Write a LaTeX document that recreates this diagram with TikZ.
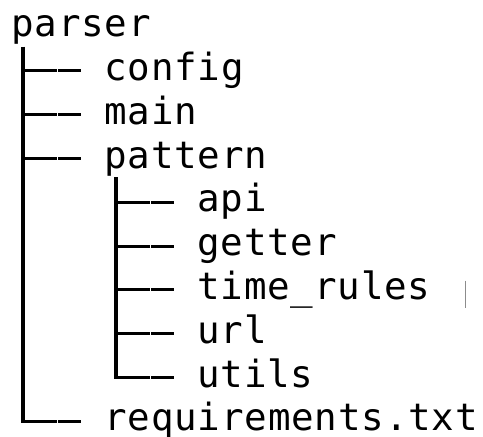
\documentclass[tikz,border=0pt]{standalone}
\usepackage{fontspec}
\newfontfamily\treefont[LetterSpace=2.2]{DejaVu Sans Mono}
\begin{document}
\begin{tikzpicture}[x=1pt,y=-1pt,
  entry/.style={anchor=base west,inner sep=0pt,outer sep=0pt,
    font=\treefont\fontsize{37.5}{44}\selectfont,text=black},
  trunk/.style={draw=black,line width=3.8pt},
  branch/.style={draw=black,line width=3pt},
  cursormark/.style={draw=black!45,line width=1pt}]
\useasboundingbox (0,0) rectangle (483,437);
% entries: column left = 11.4 + 23.25*col, baseline = 36.7 + 43.8*row
\node[entry] (parser)    at (11.4, 36.7)  {parser};
\node[entry] (config)    at (104.4, 80.5) {config};
\node[entry] (main)      at (104.4, 124.3) {main};
\node[entry] (pattern)   at (104.4, 168.1) {pattern};
\node[entry] (api)       at (197.4, 211.9) {api};
\node[entry] (getter)    at (197.4, 255.7) {getter};
\node[entry] (timerules) at (197.4, 299.5) {time\_rules};
\node[entry] (url)       at (197.4, 343.3) {url};
\node[entry] (utils)     at (197.4, 387.1) {utils};
\node[entry] (req)       at (104.4, 430.9) {requirements.txt};
% trunk tops
\coordinate (pT) at ([xshift=11.6pt,yshift=-10pt]parser.base west);
\coordinate (sT) at ([xshift=11.6pt,yshift=-9pt]pattern.base west);
% branch ends (one column before each entry, at mid line height)
\foreach \n in {config,main,pattern,req,api,getter,timerules,url,utils}
  \coordinate (\n E) at ([xshift=-23.25pt,yshift=9.7pt]\n.base west);
% vertical trunks
\draw[trunk] (pT) -- ([yshift=-1.5pt]pT |- reqE);
\draw[trunk] (sT) -- ([yshift=-1.5pt]sT |- utilsE);
% horizontal branches (two box characters, with a hairline gap)
\foreach \n in {config,main,pattern,req}{
  \draw[branch] (pT |- \n E) -- ([xshift=-24.3pt]\n E);
  \draw[branch] ([xshift=-23.3pt]\n E) -- (\n E);
}
\foreach \n in {api,getter,timerules,url,utils}{
  \draw[branch] (sT |- \n E) -- ([xshift=-24.3pt]\n E);
  \draw[branch] ([xshift=-23.3pt]\n E) -- (\n E);
}
% text cursor mark
\coordinate (c1) at (465,280.7);
\coordinate (c2) at (465,308.3);
\draw[cursormark] (c1) -- (c2);
\end{tikzpicture}
\end{document}
